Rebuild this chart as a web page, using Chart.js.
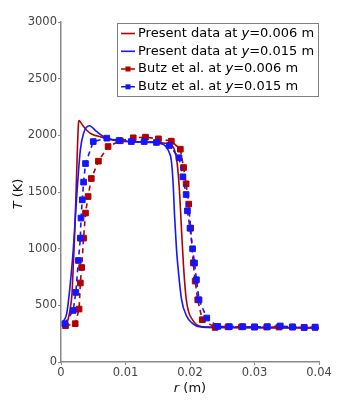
<!DOCTYPE html>
<html>
<head>
<meta charset="utf-8">
<script src="https://cdn.jsdelivr.net/npm/chart.js@4/dist/chart.umd.min.js"></script>
<style>
html,body{margin:0;padding:0;background:#fff;}
#wrap{width:341px;height:401px;}
</style>
</head>
<body>
<div id="wrap"><canvas id="c" width="341" height="401"></canvas></div>
<script>
// ---- data ----
const presentR006 = [0.0003,0.0007,0.0010,0.0014,0.0017,0.0019,0.0021,0.0023,0.0025,0.0027,0.0028,0.0031,0.0035,0.0040,0.0045,0.0052,0.0060,0.0070,0.0085,0.0100,0.0120,0.0140,0.0155,0.0165,0.0170,0.0176,0.0180,0.0184,0.0187,0.0190,0.0194,0.0198,0.0203,0.0210,0.0220,0.0240,0.0300,0.0400];
const presentT006 = [335,345,360,460,600,843,1100,1431,1800,2100,2131,2110,2078,2045,2019,2000,1989,1970,1955,1948,1942,1940,1935,1928,1920,1870,1760,1480,1150,843,560,440,380,330,310,305,302,300];

const presentR015 = [0.0003,0.0009,0.0014,0.0019,0.0024,0.0030,0.0035,0.0044,0.0055,0.0066,0.0086,0.0100,0.0120,0.0140,0.0155,0.0162,0.0167,0.0171,0.0174,0.0176,0.0179,0.0182,0.0187,0.0195,0.0203,0.0210,0.0220,0.0250,0.0400];
const presentT015 = [350,432,667,990,1431,1872,2019,2084,2034,1989,1954,1945,1940,1938,1928,1905,1860,1780,1560,1300,1000,800,549,402,345,318,308,305,302];

const butzR006 = [0.0007,0.0022,0.0028,0.0030,0.0032,0.0035,0.0038,0.0042,0.0047,0.0058,0.0073,0.0092,0.0112,0.0131,0.0151,0.0171,0.0185,0.0190,0.0194,0.0198,0.0201,0.0205,0.0208,0.0212,0.0219,0.0239,0.0259,0.0280,0.0300,0.0319,0.0338,0.0359,0.0377,0.0394];
const butzT006 = [320,338,467,697,834,1093,1314,1460,1619,1772,1901,1952,1978,1984,1969,1949,1878,1716,1572,1393,1181,875,714,549,373,305,310,310,308,308,308,308,305,305];

const butzR015 = [0.0006,0.0019,0.0023,0.0027,0.0030,0.0031,0.0033,0.0035,0.0038,0.0050,0.0071,0.0090,0.0109,0.0129,0.0148,0.0168,0.0183,0.0189,0.0194,0.0196,0.0200,0.0204,0.0207,0.0210,0.0214,0.0226,0.0243,0.0261,0.0282,0.0300,0.0320,0.0340,0.0359,0.0377,0.0394];
const butzT015 = [338,455,614,896,1093,1270,1431,1587,1751,1945,1975,1954,1945,1945,1937,1910,1802,1634,1478,1334,1181,999,873,726,549,388,314,312,312,310,312,318,310,305,308];

const xTicks = [0,0.01,0.02,0.03,0.04];
const yTicks = [0,500,1000,1500,2000,2500,3000];

const legendParts = [
  ['Present data at ','y','=0.006 m'],
  ['Present data at ','y','=0.015 m'],
  ['Butz et al. at ','y','=0.006 m'],
  ['Butz et al. at ','y','=0.015 m']
];

const RED = '#b00000';
const BLUE = '#1515ff';
const FONT = 'DejaVu Sans';

function pts(xs, ys){ return xs.map((x,i)=>({x:x, y:ys[i]})); }

const overlay = {
  id:'overlay',
  afterDraw(chart){
    const ctx = chart.ctx;
    const ca = chart.chartArea;
    ctx.save();
    // axis titles
    ctx.fillStyle = '#111';
    ctx.textBaseline = 'middle';
    function mixed(parts, x, y){
      // parts: array of [text, italic]
      let cx = x;
      parts.forEach(p=>{
        ctx.font = (p[1]?'italic ':'') + '13px "' + FONT + '"';
        ctx.fillText(p[0], cx, y);
        cx += ctx.measureText(p[0]).width;
      });
      return cx - x;
    }
    function mixedWidth(parts){
      let w = 0;
      parts.forEach(p=>{ ctx.font = (p[1]?'italic ':'') + '13px "' + FONT + '"'; w += ctx.measureText(p[0]).width; });
      return w;
    }
    ctx.textAlign = 'left';
    const xt = [['r',true],[' (m)',false]];
    const wx = mixedWidth(xt);
    mixed(xt, (ca.left+ca.right)/2 - wx/2, 389);
    const yt = [['T',true],[' (K)',false]];
    const wy = mixedWidth(yt);
    ctx.save();
    ctx.translate(19, (ca.top+ca.bottom)/2 + 2);
    ctx.rotate(-Math.PI/2);
    mixed(yt, -wy/2, 0);
    ctx.restore();

    // legend box
    const bx = 117.5, by = 23.5, bw = 201, bh = 73;
    ctx.fillStyle = '#fff';
    ctx.fillRect(bx, by, bw, bh);
    ctx.strokeStyle = '#808080';
    ctx.lineWidth = 1;
    ctx.strokeRect(bx, by, bw, bh);
    const rows = [33.5, 51.3, 69, 86.8];
    const ds = chart.data.datasets;
    rows.forEach((ry,i)=>{
      const d = ds[i];
      ctx.strokeStyle = d.borderColor;
      ctx.lineWidth = 1.6;
      ctx.setLineDash(d.borderDash || []);
      ctx.beginPath();
      ctx.moveTo(121, ry);
      ctx.lineTo(135, ry);
      ctx.stroke();
      ctx.setLineDash([]);
      if (d.pointRadius > 0){
        ctx.fillStyle = d.borderColor;
        ctx.fillRect(125.5, ry-2.5, 5, 5);
      }
      ctx.fillStyle = '#000';
      const lp = legendParts[i];
      mixed([[lp[0],false],[lp[1],true],[lp[2],false]], 138, ry);
    });
    ctx.restore();
  }
};

new Chart(document.getElementById('c'), {
  type:'scatter',
  data:{
    datasets:[
      {label:'Present data at y=0.006 m', data:pts(presentR006,presentT006), showLine:true, borderColor:RED, backgroundColor:RED, borderWidth:1.6, pointRadius:0, cubicInterpolationMode:'monotone', order:3},
      {label:'Present data at y=0.015 m', data:pts(presentR015,presentT015), showLine:true, borderColor:BLUE, backgroundColor:BLUE, borderWidth:1.6, pointRadius:0, cubicInterpolationMode:'monotone', order:2},
      {label:'Butz et al. at y=0.006 m', data:pts(butzR006,butzT006), showLine:true, borderColor:RED, backgroundColor:RED, borderWidth:1.6, borderDash:[5,4], pointStyle:'rect', pointRadius:4, pointBorderWidth:1, pointBorderColor:RED, pointBackgroundColor:RED, order:1},
      {label:'Butz et al. at y=0.015 m', data:pts(butzR015,butzT015), showLine:true, borderColor:BLUE, backgroundColor:BLUE, borderWidth:1.6, borderDash:[5,4], pointStyle:'rect', pointRadius:4, pointBorderWidth:1, pointBorderColor:BLUE, pointBackgroundColor:BLUE, order:0}
    ]
  },
  options:{
    responsive:false,
    animation:false,
    events:[],
    layout:{padding:{top:22, right:22, left:0, bottom:0}},
    plugins:{legend:{display:false}, tooltip:{enabled:false}},
    scales:{
      x:{
        type:'linear', min:0, max:0.04,
        afterFit(s){ s.height = 39; },
        afterBuildTicks(s){ s.ticks = xTicks.map(v=>({value:v})); },
        grid:{display:true, drawOnChartArea:false, drawTicks:true, tickLength:3, color:'#8a8a8a', lineWidth:1},
        border:{display:true, color:'#8a8a8a', width:1.5},
        ticks:{padding:1, color:'#444', font:{family:FONT, size:11.5}, maxRotation:0, callback:v=>String(+v.toFixed(2))}
      },
      y:{
        type:'linear', min:0, max:3000,
        afterFit(s){ s.width = 61; },
        afterBuildTicks(s){ s.ticks = yTicks.map(v=>({value:v})); },
        grid:{display:true, drawOnChartArea:false, drawTicks:true, tickLength:3, color:'#8a8a8a', lineWidth:1},
        border:{display:true, color:'#8a8a8a', width:1.5},
        ticks:{padding:1, color:'#444', font:{family:FONT, size:11.5}, callback:v=>String(v)}
      }
    }
  },
  plugins:[overlay]
});
</script>
</body>
</html>
